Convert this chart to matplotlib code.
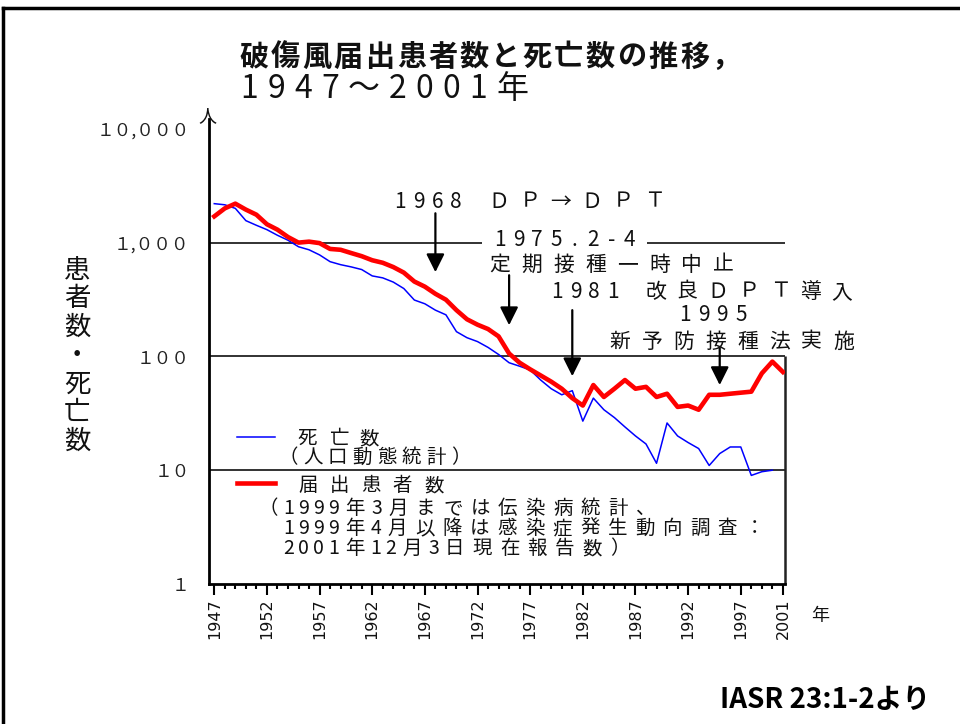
import unicodedata
import matplotlib
matplotlib.use("Agg")
import matplotlib.pyplot as plt
from matplotlib.lines import Line2D
from matplotlib.patches import Rectangle
from matplotlib.ticker import NullLocator

plt.rcParams['font.family'] = ['Noto Sans CJK JP', 'DejaVu Sans']

# 破傷風 届出患者数（伝染病統計／感染症発生動向調査）と死亡数（人口動態統計）
years = list(range(1947, 2002))
cases = [1700, 2000, 2200, 1950, 1760, 1450, 1300, 1120, 1000, 1020,
         990, 880, 865, 810, 760, 700, 665, 610, 545, 455,
         410, 355, 315, 255, 212, 190, 174, 150, 106, 88,
         77, 68, 60, 52, 43, 37, 56, 44, 52, 62,
         52, 54, 44, 47, 36, 37, 34, 46, 46, 47,
         48, 49, 71, 90, 73]
death_years = list(range(1947, 2001))
deaths = [2200, 2150, 2000, 1560, 1420, 1300, 1160, 1050, 920, 865,
          780, 680, 640, 612, 580, 510, 490, 450, 395, 313,
          290, 255, 232, 165, 146, 135, 120, 104, 88, 82,
          76, 62, 52, 46, 50, 27, 43, 34, 29, 24,
          20, 17, 11.5, 26, 20, 17.5, 15.5, 11, 14, 16,
          16, 9, 9.7, 10]

year_ticks = [1947, 1952, 1957, 1962, 1967, 1972, 1977, 1982, 1987, 1992, 1997, 2001]
y_ticks = [1, 10, 100, 1000, 10000]
y_labels = ['１', '１０', '１００', '１,０００', '１０,０００']

# 矢印（年, 矢の根元, 矢の先）
events = [(1968, 1811, 550), (1975, 517, 188), (1981, 255, 67), (1995, 120, 56)]

W, H = 960, 724
fig = plt.figure(figsize=(W / 100, H / 100), dpi=100)
ax = fig.add_axes([209 / W, 1 - 584 / H, 576 / W, 465 / H])


def spaced(x, y, s, half, full, size=14, **kw):
    # 等幅っぽく1文字ずつ並べる (x, y はピクセル, y は文字の中心)
    em = size * 100 / 72
    base = y + 0.37 * em
    cur = x
    for ch in s:
        w = full if unicodedata.east_asian_width(ch) in ('W', 'F', 'A') else half
        fig.text((cur + w / 2) / W, 1 - base / H, ch, ha='center', va='baseline',
                 fontsize=size, color='#111', **kw)
        cur += w


ax.set_yscale('log')
ax.set_ylim(1, 12200)
ax.set_xlim(1946.5, 2001.2)

for v in (10, 100, 1000):
    ax.axhline(v, color='#222', lw=1.3, zorder=1)

ax.plot(death_years, deaths, color='#0000ff', lw=1.1, zorder=3)
ax.plot(years, cases, color='#ff0000', lw=3.3, zorder=4)

ax.spines['top'].set_visible(False)
ax.spines['right'].set_visible(False)
ax.spines['left'].set_linewidth(2)
ax.spines['bottom'].set_linewidth(2)
ax.vlines(2001.2, 1, 100, color='#222', lw=1.8, clip_on=False)

ax.set_xticks(year_ticks)
ax.set_xticklabels([str(y) for y in year_ticks], rotation=90, va='top',
                   fontfamily='DejaVu Sans', fontsize=11.5, color='#111')
ax.set_xticks(years, minor=True)
ax.tick_params(axis='x', which='major', length=8, width=1.5, pad=2)
ax.tick_params(axis='x', which='minor', length=3.5, width=1.5)

ax.set_yticks(y_ticks)
ax.set_yticklabels(y_labels, fontsize=12.7, color='#222')
ax.yaxis.set_minor_locator(NullLocator())
ax.tick_params(axis='y', length=0, pad=14)

for yr, tail, tip in events:
    ax.annotate('', xy=(yr, tip), xytext=(yr, tail),
                arrowprops=dict(arrowstyle='-|>,head_length=1.0,head_width=0.5',
                                mutation_scale=11, lw=1.6, color='black',
                                shrinkA=0, shrinkB=0))

# 見出しと注記
spaced(238, 55, '破傷風届出患者数と死亡数の推移，', 16, 31.5, size=21, fontweight='bold')
spaced(236, 86, '1947～2001年', 27, 40, size=23)

spaced(391, 200, '1968 ＤＰ→ＤＰＴ', 18.5, 31, size=15)
fig.patches.append(Rectangle((482 / W, 1 - 249 / H), 165 / W, 18 / H, transform=fig.transFigure,
                             facecolor='white', edgecolor='none', zorder=2.5))
spaced(491, 238, '1975.2-4', 18.5, 31, size=15)
spaced(484, 263, '定期接種一時中止', 18.5, 31.9, size=15)
spaced(548, 290, '1981 改良ＤＰＴ導入', 18.5, 31, size=15)
spaced(676, 313, '1995', 18.5, 31, size=15)
spaced(604, 340, '新予防接種法実施', 18.5, 31.9, size=15)

# 凡例
fig.add_artist(Line2D([237 / W, 275 / W], [1 - 437 / H] * 2, color='#0000ff', lw=1.1))
fig.add_artist(Line2D([237 / W, 275 / W], [1 - 483 / H] * 2, color='#ff0000', lw=3.3))
spaced(292, 437, '死亡数', 15, 31)
spaced(276, 456, '（人口動態統計）', 15, 24.6)
spaced(292, 484, '届出患者数', 15, 31.5)
spaced(254, 507, '（1999年3月までは伝染病統計、', 15, 27.5)
spaced(281, 527, '1999年4月以降は感染症発生動向調査：', 15, 27.5)
spaced(281, 547, '2001年12月3日現在報告数）', 15, 27.5)

# 縦書きの軸ラベル
for i, ch in enumerate('患者数・死亡数'):
    fig.text(77 / W, 1 - (270 + i * 28.5) / H, ch, ha='center', va='center',
             fontsize=19, color='#111')

fig.text(207 / W, 1 - 116 / H, '人', ha='center', va='center', fontsize=13, color='#111')
fig.text(820 / W, 1 - 616 / H, '年', ha='center', va='center', fontsize=13, color='#111')
fig.text(930 / W, 1 - 700 / H, 'IASR 23:1-2より', ha='right', va='center',
         fontsize=20, fontweight='bold', color='black')

# 外枠（上と左）
fig.add_artist(Line2D([3 / W, 3 / W], [0, 1 - 8 / H], color='black', lw=2.5))
fig.add_artist(Line2D([3 / W, 1], [1 - 8 / H, 1 - 8 / H], color='black', lw=2.5))

fig.savefig('out.png', dpi=100)
